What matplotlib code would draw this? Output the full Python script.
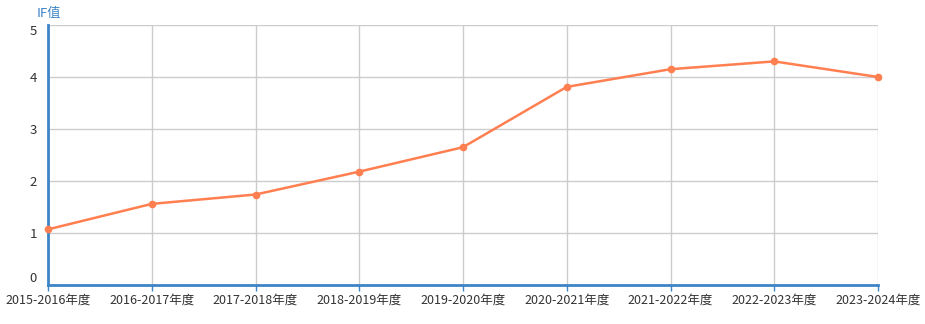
import matplotlib
matplotlib.use("Agg")
import matplotlib.pyplot as plt

plt.rcParams['font.family'] = ['Noto Sans CJK SC', 'DejaVu Sans']

# 数据
years = ["2015-2016年度", "2016-2017年度", "2017-2018年度", "2018-2019年度",
         "2019-2020年度", "2020-2021年度", "2021-2022年度", "2022-2023年度",
         "2023-2024年度"]
if_values = [1.07, 1.56, 1.74, 2.18, 2.65, 3.81, 4.15, 4.30, 4.00]
y_ticks = [0, 1, 2, 3, 4, 5]

W, H = 925, 324
fig = plt.figure(figsize=(W / 100, H / 100), dpi=100)
ax = fig.add_axes([48 / W, 1 - 285 / H, 830 / W, 260 / H])

x = list(range(len(years)))
ax.plot(x, if_values, color="#ff7f50", linewidth=1.8, marker="o", markersize=4.5,
        zorder=3, clip_on=False)

ax.set_xlim(0, len(years) - 1)
ax.set_ylim(0, 5)
ax.set_xticks(x)
ax.set_xticklabels(years)
ax.set_yticks(y_ticks)

ax.grid(True, color="#cccccc", linewidth=1)
ax.set_axisbelow(True)

for s in ["top", "right"]:
    ax.spines[s].set_visible(False)
for s in ["left", "bottom"]:
    ax.spines[s].set_color("#3d85c6")
    ax.spines[s].set_linewidth(2)

ax.tick_params(axis="x", colors="#3d85c6", length=4, width=1, labelsize=9,
               labelcolor="#333333", pad=2)
ax.tick_params(axis="y", length=0, labelsize=9.5, labelcolor="#333333", pad=8)

# 端点标签向内对齐
ylabels = ax.get_yticklabels()
ylabels[0].set_verticalalignment("bottom")
ylabels[-1].set_verticalalignment("top")

fig.text(37 / W, 1 - 13 / H, "IF值", color="#3d85c6", fontsize=9.5,
         va="center", ha="left")

fig.savefig("out.png", dpi=100)
